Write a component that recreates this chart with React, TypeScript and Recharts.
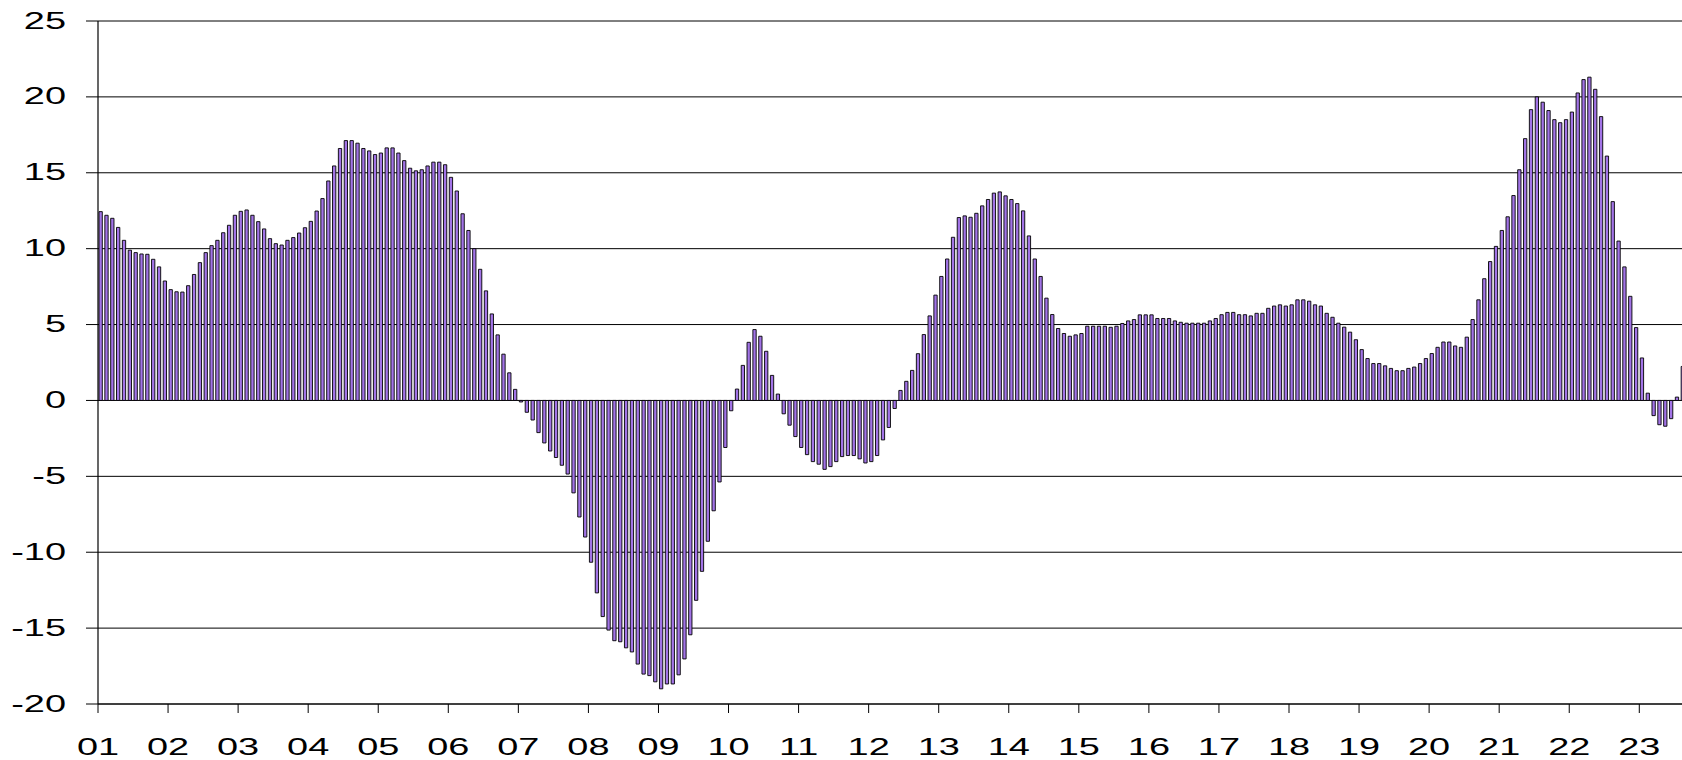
import { BarChart, Bar, XAxis, YAxis, CartesianGrid } from "recharts";

// monthly values, one array per year (2001 .. 2023)
const y2001 = [12.44, 12.2, 12.0, 11.4, 10.55, 9.9, 9.74, 9.65, 9.63, 9.3, 8.8, 7.87];
const y2002 = [7.3, 7.16, 7.14, 7.56, 8.3, 9.08, 9.74, 10.2, 10.55, 11.05, 11.54, 12.2];
const y2003 = [12.46, 12.55, 12.2, 11.78, 11.3, 10.66, 10.33, 10.24, 10.55, 10.73, 11.03, 11.38];
const y2004 = [11.8, 12.48, 13.3, 14.46, 15.45, 16.6, 17.12, 17.12, 16.95, 16.6, 16.44, 16.2];
const y2005 = [16.3, 16.64, 16.64, 16.3, 15.8, 15.3, 15.13, 15.2, 15.45, 15.7, 15.7, 15.53];
const y2006 = [14.7, 13.8, 12.3, 11.2, 10.0, 8.64, 7.22, 5.7, 4.32, 3.05, 1.82, 0.73];
const y2007 = [-0.1, -0.78, -1.29, -2.12, -2.8, -3.33, -3.76, -4.27, -4.85, -6.09, -7.68, -9.0];
const y2008 = [-10.66, -12.68, -14.24, -15.13, -15.83, -15.9, -16.3, -16.57, -17.37, -18.03, -18.13, -18.54];
const y2009 = [-19.0, -18.68, -18.68, -18.08, -17.03, -15.44, -13.17, -11.26, -9.28, -7.27, -5.37, -3.1];
const y2010 = [-0.68, 0.75, 2.31, 3.83, 4.67, 4.23, 3.24, 1.65, 0.42, -0.88, -1.63, -2.38];
const y2011 = [-3.1, -3.57, -4.03, -4.2, -4.54, -4.36, -4.03, -3.7, -3.63, -3.63, -3.85, -4.12];
const y2012 = [-4.03, -3.63, -2.6, -1.78, -0.53, 0.66, 1.26, 1.98, 3.08, 4.34, 5.57, 6.94];
const y2013 = [8.17, 9.32, 10.75, 12.05, 12.16, 12.07, 12.33, 12.82, 13.24, 13.66, 13.74, 13.48];
const y2014 = [13.24, 12.97, 12.49, 10.84, 9.32, 8.17, 6.74, 5.66, 4.74, 4.41, 4.23, 4.32];
const y2015 = [4.41, 4.89, 4.89, 4.89, 4.89, 4.82, 4.89, 5.07, 5.24, 5.33, 5.64, 5.64];
const y2016 = [5.64, 5.4, 5.4, 5.4, 5.24, 5.15, 5.09, 5.09, 5.09, 5.09, 5.24, 5.4];
const y2017 = [5.65, 5.8, 5.8, 5.65, 5.65, 5.57, 5.74, 5.74, 6.07, 6.22, 6.3, 6.22];
const y2018 = [6.3, 6.63, 6.63, 6.54, 6.3, 6.22, 5.74, 5.48, 5.09, 4.83, 4.5, 4.0];
const y2019 = [3.35, 2.76, 2.43, 2.43, 2.28, 2.11, 1.96, 1.96, 2.11, 2.2, 2.43, 2.76];
const y2020 = [3.09, 3.5, 3.85, 3.85, 3.59, 3.5, 4.17, 5.33, 6.63, 8.02, 9.15, 10.15];
const y2021 = [11.2, 12.1, 13.5, 15.2, 17.25, 19.16, 20.0, 19.65, 19.1, 18.5, 18.3, 18.5];
const y2022 = [19.0, 20.26, 21.14, 21.3, 20.5, 18.7, 16.1, 13.1, 10.5, 8.8, 6.86, 4.8];
const y2023 = [2.8, 0.48, -1.0, -1.6, -1.7, -1.2, 0.22, 2.24];

const years = [
  y2001, y2002, y2003, y2004, y2005, y2006, y2007, y2008, y2009, y2010, y2011, y2012,
  y2013, y2014, y2015, y2016, y2017, y2018, y2019, y2020, y2021, y2022, y2023,
];

const yearLabels = [
  "01", "02", "03", "04", "05", "06", "07", "08", "09", "10", "11", "12",
  "13", "14", "15", "16", "17", "18", "19", "20", "21", "22", "23",
];

const yTicks = [-20, -15, -10, -5, 0, 5, 10, 15, 20, 25];

// each month sits in the middle of its slot, years start on the ticks
const data = years.flatMap((vals, yi) =>
  vals.map((v, m) => ({ t: yi * 12 + m + 0.5, value: v })),
);
const xTicks = yearLabels.map((_, i) => i * 12);

const FONT = "'Liberation Sans', Arial, sans-serif";
const STRETCH = 1.58;

function YTick({ x, y, payload }: any) {
  return (
    <g transform={`translate(${x},${y})`}>
      <text
        x={0}
        y={0}
        dy={7.5}
        textAnchor="end"
        transform={`scale(${STRETCH},1)`}
        fill="#000"
        fontSize={24}
        fontFamily={FONT}
      >
        {payload.value}
      </text>
    </g>
  );
}

function XTick({ x, y, payload }: any) {
  const label = yearLabels[Math.round(payload.value / 12)];
  return (
    <g transform={`translate(${x},${y})`}>
      <text
        x={0}
        y={0}
        dy={40}
        textAnchor="middle"
        transform={`scale(${STRETCH},1)`}
        fill="#000"
        fontSize={24}
        fontFamily={FONT}
      >
        {label}
      </text>
    </g>
  );
}

export default function App() {
  return (
    <div
      style={{
        position: "fixed",
        left: 0,
        top: 0,
        width: 1682,
        height: 760,
        overflow: "hidden",
        background: "#fff",
      }}
    >
      <BarChart
        width={1700}
        height={760}
        data={data}
        margin={{ top: 21, right: 14, left: 0, bottom: 0 }}
      >
        <CartesianGrid vertical={false} stroke="#000" strokeWidth={1} />
        <XAxis
          type="number"
          dataKey="t"
          domain={[0, 272]}
          ticks={xTicks}
          interval={0}
          allowDataOverflow
          height={56}
          axisLine={{ stroke: "#000", strokeWidth: 1.2 }}
          tickLine={{ stroke: "#000", strokeWidth: 1 }}
          tickSize={9}
          tickMargin={2}
          tick={<XTick />}
        />
        <YAxis
          type="number"
          domain={[-20, 25]}
          ticks={yTicks}
          interval={0}
          width={98}
          axisLine={{ stroke: "#000", strokeWidth: 1.2 }}
          tickLine={{ stroke: "#000", strokeWidth: 1 }}
          tickSize={12}
          tickMargin={20}
          tick={<YTick />}
        />
        <Bar
          dataKey="value"
          barSize={3.3}
          fill="#a274e6"
          stroke="#000"
          strokeWidth={0.9}
          isAnimationActive={false}
        />
      </BarChart>
    </div>
  );
}
